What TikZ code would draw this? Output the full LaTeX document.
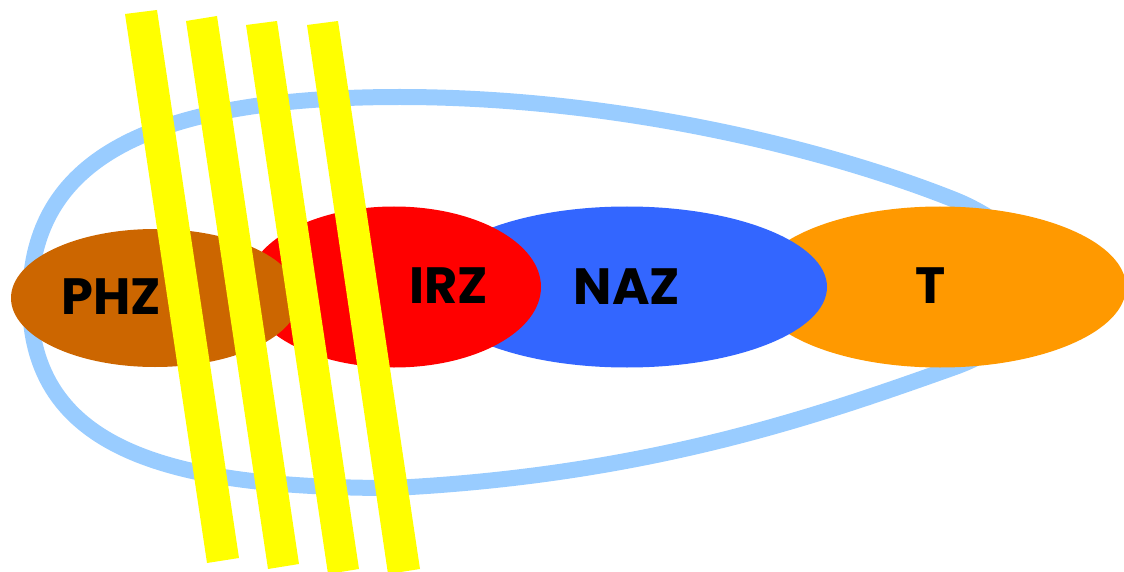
\documentclass[tikz,border=0pt]{standalone}
\usepackage{fontspec}
\setmainfont{Poppins}
\usetikzlibrary{shapes.geometric}
\definecolor{loopblue}{HTML}{99CCFF}
\definecolor{phzc}{HTML}{CC6600}
\definecolor{irzc}{HTML}{FF0000}
\definecolor{nazc}{HTML}{3366FF}
\definecolor{tc}{HTML}{FF9900}
\definecolor{barc}{HTML}{FFFF00}
\tikzset{
  zone/.style={ellipse, inner sep=0pt, draw=none},
  lbl/.style={font=\fontsize{51}{51}\selectfont\bfseries, text=black, inner sep=0pt},
  bar/.style={fill=barc, draw=none},
  loopline/.style={draw=loopblue, line width=16pt}
}
\begin{document}
\begin{tikzpicture}[x=1pt,y=-1pt]
\useasboundingbox (0,0) rectangle (1124,572);
% loop
\draw[loopline] (1075,290) .. controls (1040,255) and (1000,218) .. (955,200)
  .. controls (830,150) and (620,97) .. (400,97)
  .. controls (130,97) and (30,170) .. (30,300)
  .. controls (30,450) and (170,488) .. (393,488)
  .. controls (650,475) and (820,415) .. (955,367)
  .. controls (1000,351) and (1040,315) .. cycle;
% zones
\node[zone, fill=tc, minimum width=372pt, minimum height=161pt] (t) at (940,287) {};
\node[zone, fill=nazc, minimum width=400pt, minimum height=161pt] (naz) at (627,287) {};
\node[zone, fill=irzc, minimum width=294pt, minimum height=161pt] (irz) at (394,287) {};
\node[zone, fill=phzc, minimum width=288pt, minimum height=138pt] (phz) at (155,298) {};
% labels
\node[lbl] (tphz) at (111,297) {PHZ};
\node[lbl] (tirz) at (449,286) {IRZ};
\node[lbl] (tnaz) at (627,287) {NAZ};
\node[lbl] (tt) at (931,286) {T};
% bars
\fill[bar] (125,14) -- (157,10) -- (239,558) -- (207,563) -- cycle;
\fill[bar] (186,21) -- (217,16) -- (299,564) -- (268,569) -- cycle;
\fill[bar] (246,25) -- (277,21) -- (359,569) -- (328,574) -- cycle;
\fill[bar] (307,25) -- (338,21) -- (420,569) -- (388,574) -- cycle;
\end{tikzpicture}
\end{document}
